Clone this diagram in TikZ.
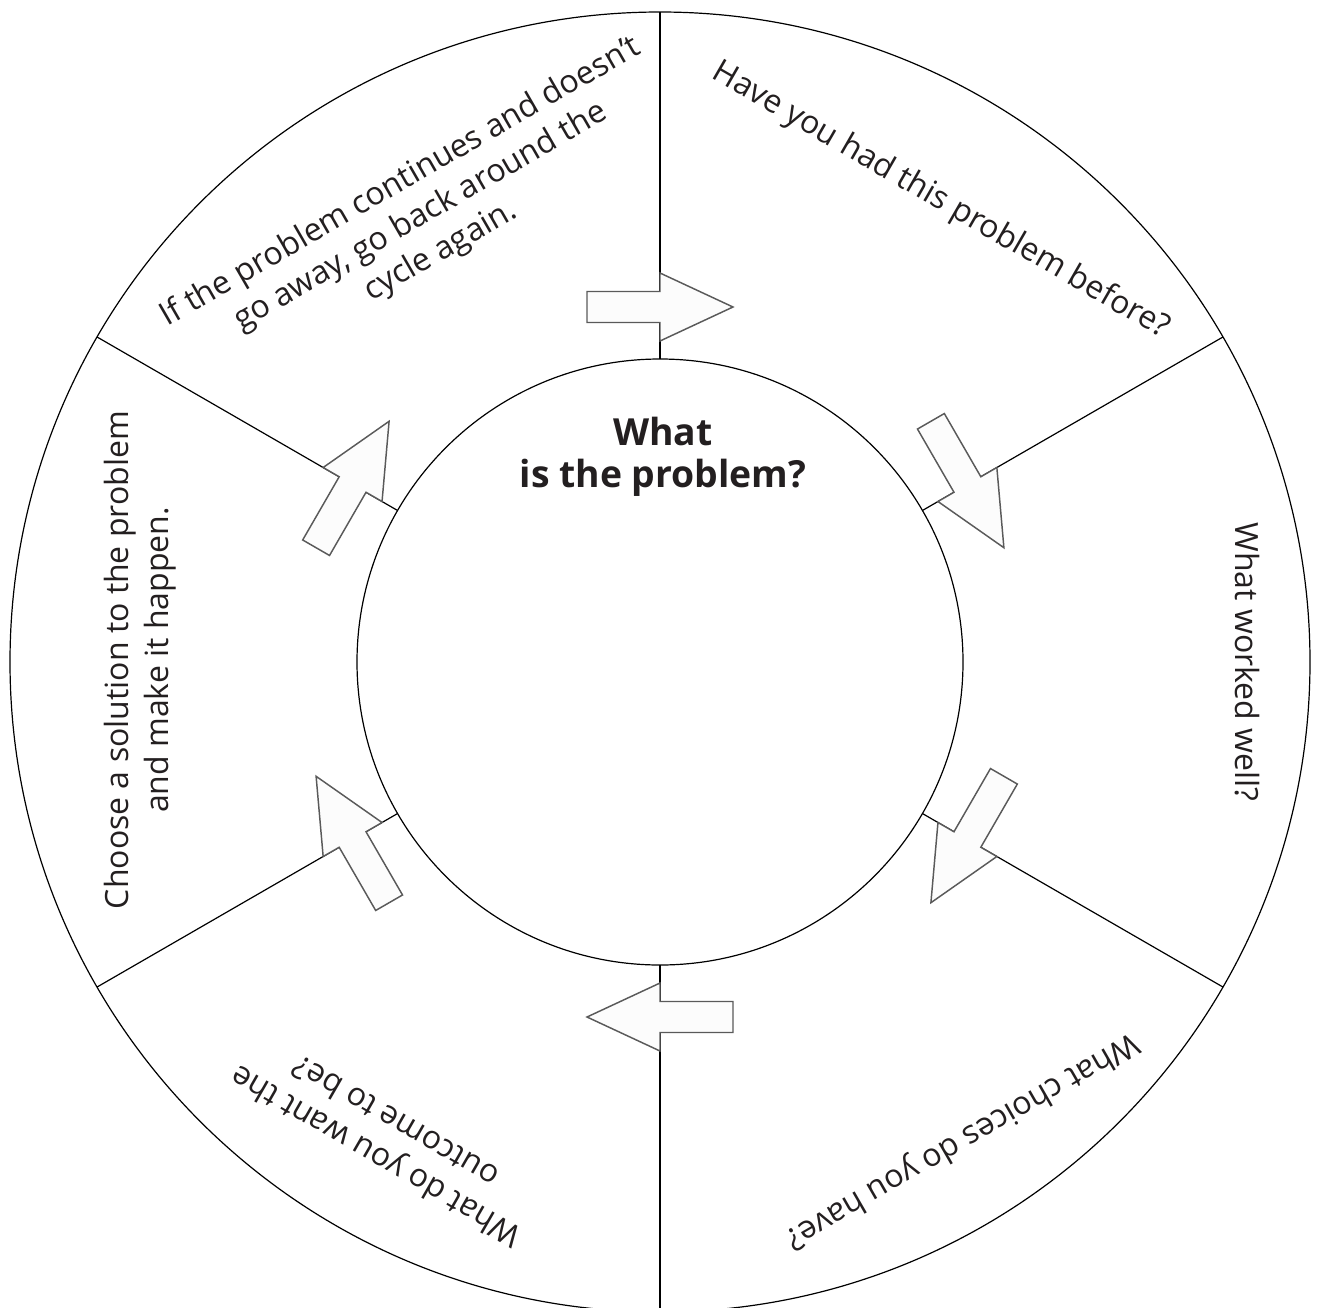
\documentclass[tikz,border=0pt]{standalone}
\usepackage{fontspec}
\setmainfont{Open Sans}

\begin{document}
\begin{tikzpicture}[x=0.75pt,y=0.75pt,yscale=-1,xscale=1,
    blockarrow/.style={draw={rgb, 255:red, 90; green, 90; blue, 90}, fill={rgb, 255:red, 252; green, 252; blue, 252}, line width=1.1},
    stagetext/.style={font=\fontsize{24}{30}\selectfont, text={rgb, 255:red, 35; green, 31; blue, 32}, align=center, inner sep=0.75pt}]
%uncomment if require: \path (0,1307); %set diagram left start at 0, and has height of 1307
\useasboundingbox (0,0) rectangle (1317,1307);
\clip (0,0) rectangle (1317,1307);

%Shape: Circle [outer]
\draw  [line width=0.9]  (660,662) circle (650) ;
%Shape: Circle [inner]
\draw  [line width=0.9]  (660,662) circle (303) ;

%Straight Lines [top]
\draw  [line width=0.9]  (660,359) -- (660,12) ;
%Straight Lines [upper right]
\draw  [line width=0.9]  (922.4,510.5) -- (1222.9,337) ;
%Straight Lines [lower right]
\draw  [line width=0.9]  (922.4,813.5) -- (1222.9,987) ;
%Straight Lines [bottom]
\draw  [line width=0.9]  (660,965) -- (660,1312) ;
%Straight Lines [lower left]
\draw  [line width=0.9]  (397.6,813.5) -- (97.1,987) ;
%Straight Lines [upper left]
\draw  [line width=0.9]  (397.6,510.5) -- (97.1,337) ;

%Right Arrow [top]
\draw [blockarrow, shift={(660,307)}, rotate = 0]  (-73,-15.5) -- (0,-15.5) -- (0,-34) -- (73,0) -- (0,34) -- (0,15.5) -- (-73,15.5) -- cycle ;
%Right Arrow [upper right]
\draw [blockarrow, shift={(967.4,484.5)}, rotate = 60]  (-73,-15.5) -- (0,-15.5) -- (0,-34) -- (73,0) -- (0,34) -- (0,15.5) -- (-73,15.5) -- cycle ;
%Right Arrow [lower right]
\draw [blockarrow, shift={(967.4,839.5)}, rotate = 120]  (-73,-15.5) -- (0,-15.5) -- (0,-34) -- (73,0) -- (0,34) -- (0,15.5) -- (-73,15.5) -- cycle ;
%Right Arrow [bottom]
\draw [blockarrow, shift={(660,1017)}, rotate = 180]  (-73,-15.5) -- (0,-15.5) -- (0,-34) -- (73,0) -- (0,34) -- (0,15.5) -- (-73,15.5) -- cycle ;
%Right Arrow [lower left]
\draw [blockarrow, shift={(352.6,839.5)}, rotate = 240]  (-73,-15.5) -- (0,-15.5) -- (0,-34) -- (73,0) -- (0,34) -- (0,15.5) -- (-73,15.5) -- cycle ;
%Right Arrow [upper left]
\draw [blockarrow, shift={(352.6,484.5)}, rotate = 300]  (-73,-15.5) -- (0,-15.5) -- (0,-34) -- (73,0) -- (0,34) -- (0,15.5) -- (-73,15.5) -- cycle ;

% Text Node
\draw (663,457) node (problem)  [font=\fontsize{28}{31.5}\selectfont\bfseries, text={rgb, 255:red, 35; green, 31; blue, 32}, align=center]  {What\\is the problem?};
% Text Node
\draw (941,201) node (before)  [stagetext, rotate=-30]  {Have you had this problem before?};
% Text Node
\draw (1247,662) node (worked)  [stagetext, rotate=-90]  {What worked well?};
% Text Node
\draw (962,1140) node (choices)  [stagetext, rotate=-150]  {What choices do you have?};
% Text Node
\draw (385,1140) node (outcome)  [stagetext, rotate=150]  {What do you want the\\outcome to be?};
% Text Node
\draw (140,660) node (solution)  [stagetext, rotate=90]  {Choose a solution to the problem\\and make it happen.};
% Text Node
\draw (421,217) node (again)  [stagetext, rotate=30]  {If the problem continues and doesn’t\\go away, go back around the\\cycle again.};

\end{tikzpicture}
\end{document}
